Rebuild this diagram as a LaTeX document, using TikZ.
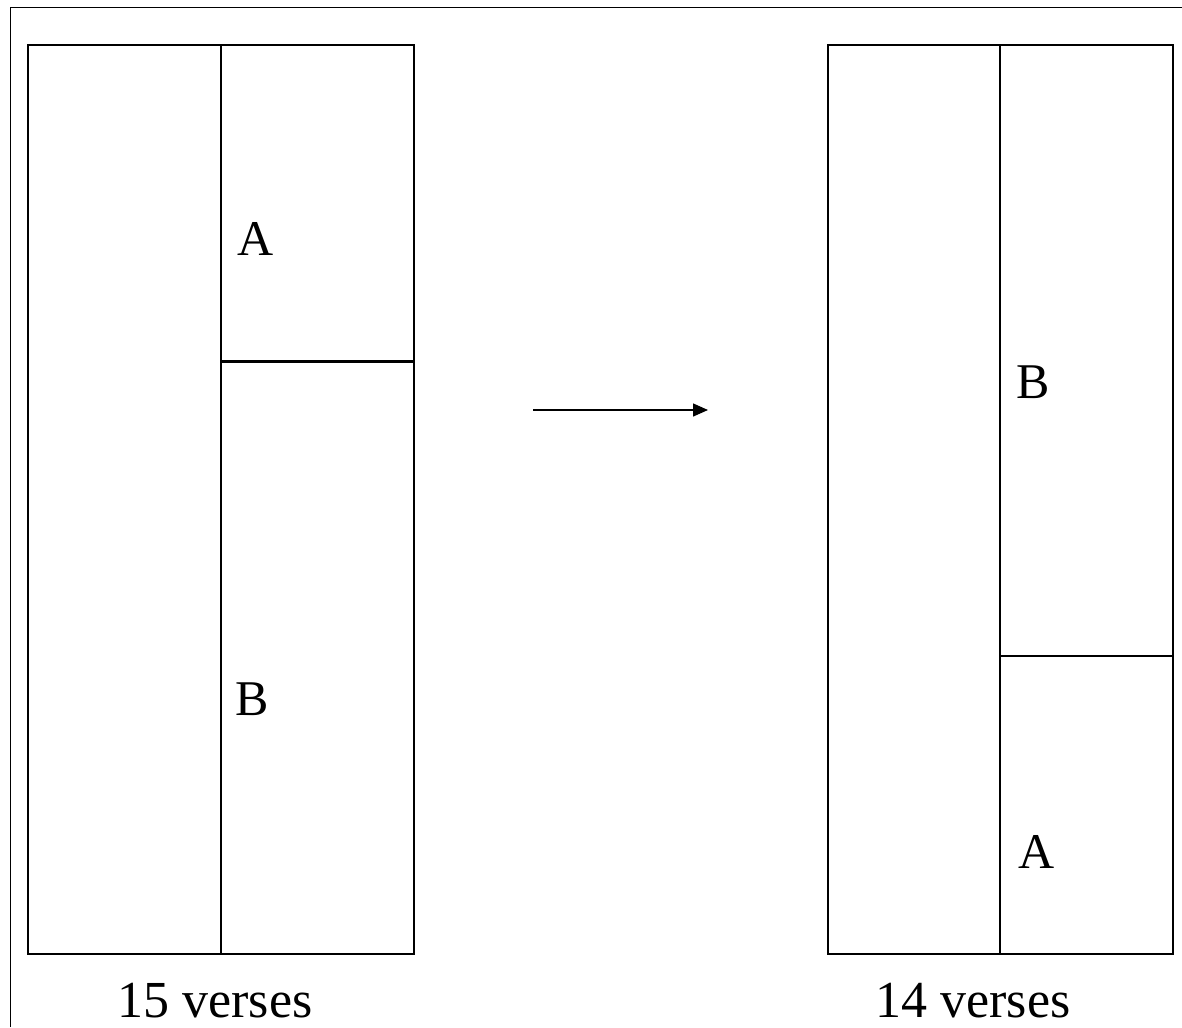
\documentclass[tikz,border=0pt]{standalone}
\usepackage{fontspec}
\setmainfont{Liberation Serif}
\usetikzlibrary{arrows.meta, positioning}

\begin{document}
\begin{tikzpicture}[
    x=1pt, y=-1pt,
    column/.style={draw, line width=1.6pt, minimum width=#1, minimum height=909pt, inner sep=0pt, anchor=north west},
    part/.style={font=\fontsize{50}{60}\selectfont, inner sep=0pt},
    caption/.style={font=\fontsize{52}{62}\selectfont, inner sep=0pt},
    arrow/.style={-{Triangle[length=15pt, width=13pt]}, line width=1.4pt}
]
    \useasboundingbox (0,0) rectangle (1182,1027);
    % Frame
    \draw[line width=1.6pt] (10.5,1027) -- (10.5,7.5) -- (1182,7.5);

    % Nodes - 15 verses
    \node[column=193pt] (lefta) at (27,44) {};
    \node[column=193pt] (leftb) at (220,44) {};
    \node[part] (a1) at (256,239) {A};
    \node[part] (b1) at (252,699) {B};
    \node[caption] (c1) at (215,1001) {15 verses};

    % Nodes - 14 verses
    \node[column=172pt] (righta) at (827,44) {};
    \node[column=173pt] (rightb) at (999,44) {};
    \node[part] (b2) at (1033,382) {B};
    \node[part] (a2) at (1037,852) {A};
    \node[caption] (c2) at (973,1001) {14 verses};

    % Dividers
    \draw[line width=3pt] (leftb.west |- 0,361) -- (leftb.east |- 0,361);
    \draw[line width=1.6pt] (rightb.west |- 0,656) -- (rightb.east |- 0,656);

    % Arrow
    \coordinate (from) at (533,410);
    \coordinate (to) at (708,410);
    \draw[arrow] (from) -- (to);
\end{tikzpicture}
\end{document}
